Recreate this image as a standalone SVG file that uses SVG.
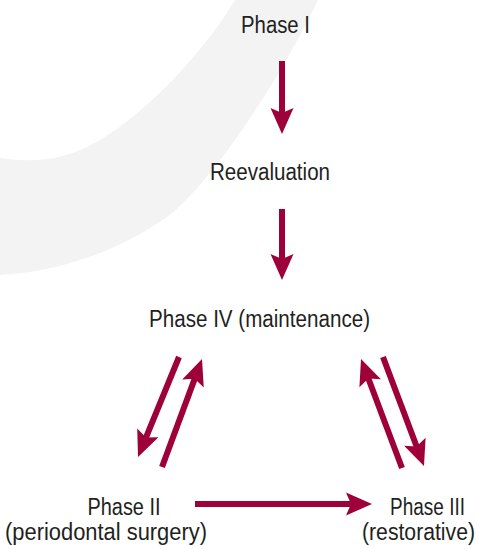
<svg xmlns="http://www.w3.org/2000/svg" width="481" height="549" viewBox="0 0 481 549">
<style>
.t{font-family:"Liberation Sans",Arial,sans-serif;font-size:23px;fill:#231f20;text-anchor:middle}
.c{stroke:#9e0039;stroke-width:6;fill:none;marker-end:url(#ah)}
</style>
<defs>
<marker id="ah" markerUnits="userSpaceOnUse" orient="auto" overflow="visible" refX="-15" refY="0" markerWidth="30" markerHeight="24">
<path d="M0,0 L-26,-11.5 L-21,0 L-26,11.5 Z" fill="#9e0039"/>
</marker>
</defs>
<rect width="481" height="549" fill="#ffffff"/>
<path id="swoosh" d="M235,0 C205,50 150,110 100,140 C70,158 40,164 0,158 L0,275 C60,272 120,250 167,217 C210,185 280,80 318,0 Z" fill="#f3f3f3"/>
<g id="connectors">
<line class="c" x1="282" y1="61" x2="282" y2="119"/>
<line class="c" x1="282" y1="209" x2="282" y2="265"/>
<line class="c" x1="179" y1="357" x2="143.7" y2="443.1"/>
<line class="c" x1="162" y1="467" x2="196.8" y2="373.1"/>
<line class="c" x1="402" y1="468" x2="366.3" y2="373.0"/>
<line class="c" x1="383" y1="357" x2="418.7" y2="452"/>
<line class="c" x1="195" y1="504" x2="357" y2="504"/>
</g>
<g id="phase1"><text class="t" x="275.5" y="33" textLength="69" lengthAdjust="spacingAndGlyphs">Phase I</text></g>
<g id="reevaluation"><text class="t" x="270" y="180" textLength="120" lengthAdjust="spacingAndGlyphs">Reevaluation</text></g>
<g id="phase4"><text class="t" x="259.5" y="327" textLength="221" lengthAdjust="spacingAndGlyphs">Phase IV (maintenance)</text></g>
<g id="phase2">
<text class="t" x="124" y="515" textLength="73" lengthAdjust="spacingAndGlyphs">Phase II</text>
<text class="t" x="106" y="540" textLength="202" lengthAdjust="spacingAndGlyphs">(periodontal surgery)</text>
</g>
<g id="phase3">
<text class="t" x="427.5" y="515" textLength="75" lengthAdjust="spacingAndGlyphs">Phase III</text>
<text class="t" x="418.5" y="540" textLength="113" lengthAdjust="spacingAndGlyphs">(restorative)</text>
</g>
</svg>
